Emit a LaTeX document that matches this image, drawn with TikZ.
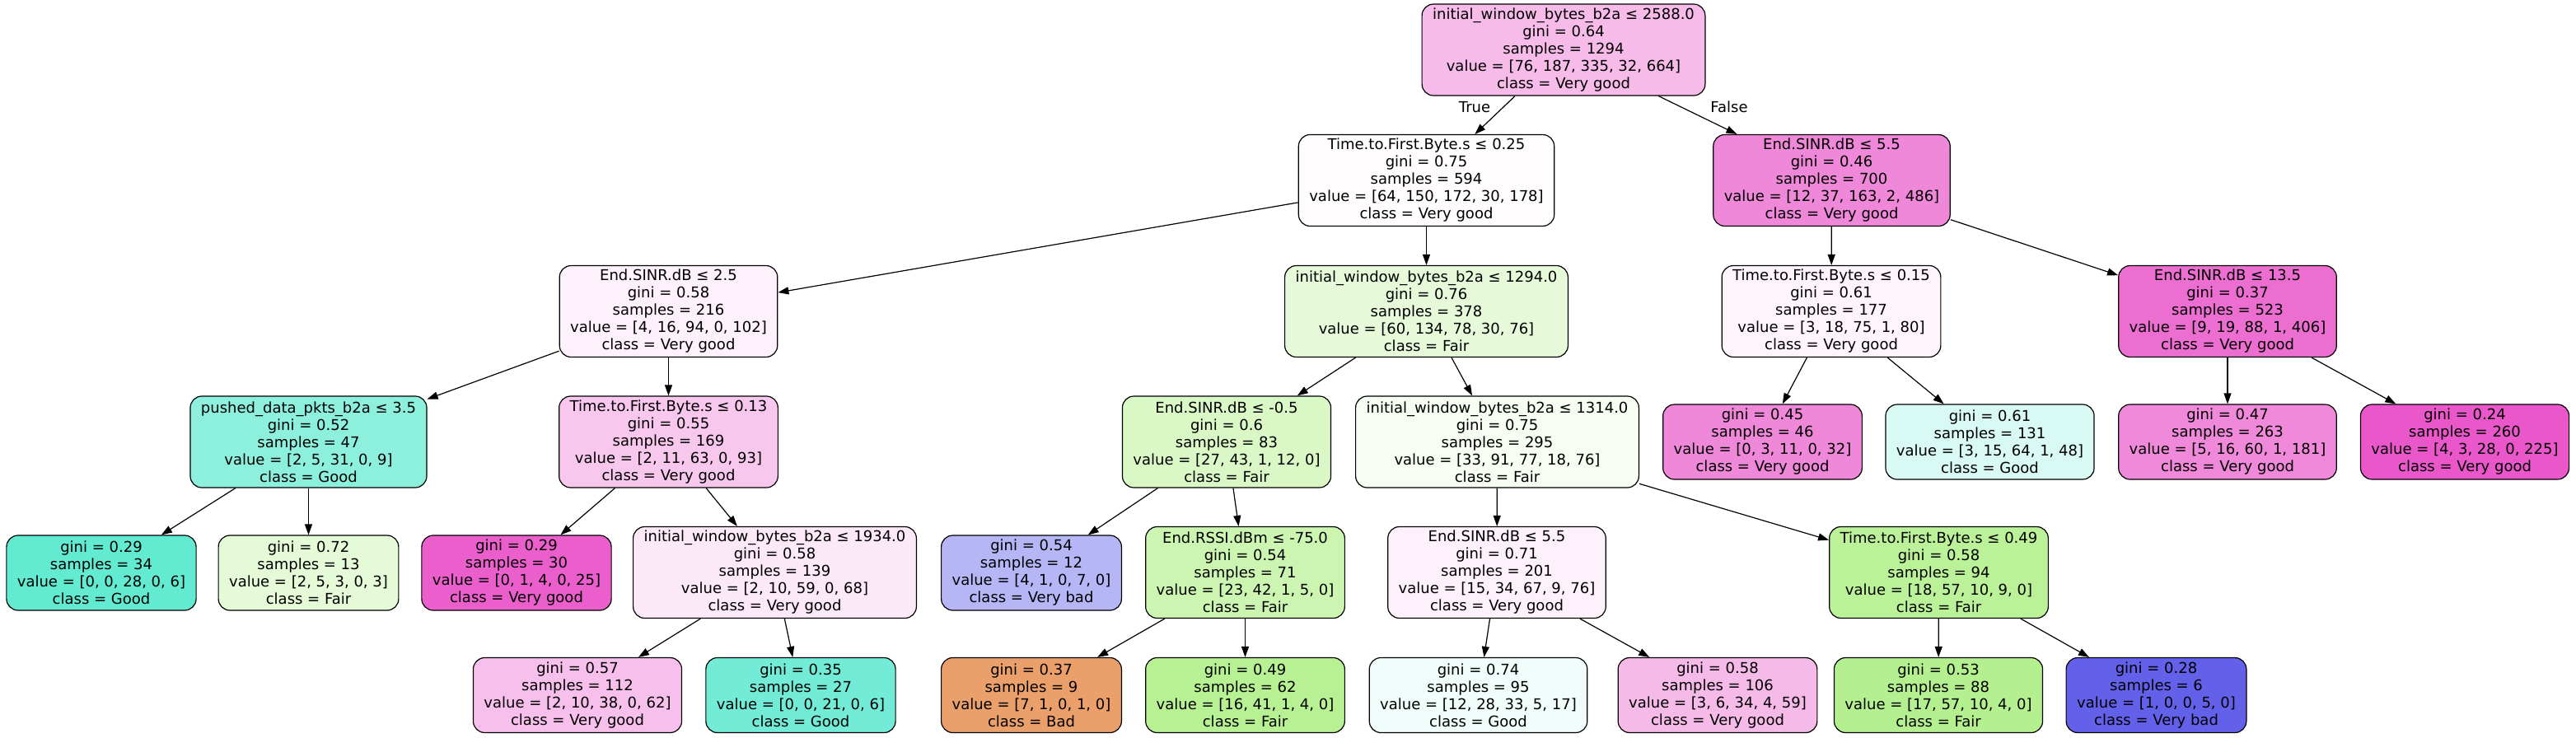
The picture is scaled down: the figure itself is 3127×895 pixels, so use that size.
\documentclass[tikz,border=0pt]{standalone}
\usepackage{fontspec}
\setmainfont{DejaVu Sans}
\usetikzlibrary{arrows.meta}
\definecolor{cBad}{RGB}{229,129,57}
\definecolor{cFair}{RGB}{123,229,57}
\definecolor{cGood}{RGB}{57,229,197}
\definecolor{cVbad}{RGB}{60,57,229}
\definecolor{cVgood}{RGB}{229,57,192}
\begin{document}
\begin{tikzpicture}[x=1pt,y=-1pt,
  tnode/.style={draw=black, line width=1.2pt, rounded corners=14pt, align=center,
    inner xsep=13pt, inner ysep=4pt, font=\fontsize{18}{21}\selectfont, minimum height=111pt},
  tleaf/.style={tnode, minimum height=91pt},
  tedge/.style={draw=black, line width=1.2pt, -{Triangle[length=13pt,width=9pt]}},
  elabel/.style={font=\fontsize{18}{21}\selectfont, inner sep=0pt}
]
\fill[white] (0,0) rectangle (3127,895);
\useasboundingbox (0,0) rectangle (3127,895);

% level 0
\node[tnode, fill=cVgood!34.3!white] (root) at (1898,60.5)
  {initial\_window\_bytes\_b2a ≤ 2588.0\\gini = 0.64\\samples = 1294\\value = [76, 187, 335, 32, 664]\\class = Very good};
% level 1
\node[tnode, fill=cVgood!1.4!white] (t1) at (1731.5,219)
  {Time.to.First.Byte.s ≤ 0.25\\gini = 0.75\\samples = 594\\value = [64, 150, 172, 30, 178]\\class = Very good};
\node[tnode, fill=cVgood!60.1!white] (e1) at (2223.5,219)
  {End.SINR.dB ≤ 5.5\\gini = 0.46\\samples = 700\\value = [12, 37, 163, 2, 486]\\class = Very good};
% level 2
\node[tnode, fill=cVgood!6.6!white] (e25) at (811.5,378)
  {End.SINR.dB ≤ 2.5\\gini = 0.58\\samples = 216\\value = [4, 16, 94, 0, 102]\\class = Very good};
\node[tnode, fill=cFair!18.7!white] (w1294) at (1731.5,378)
  {initial\_window\_bytes\_b2a ≤ 1294.0\\gini = 0.76\\samples = 378\\value = [60, 134, 78, 30, 76]\\class = Fair};
\node[tnode, fill=cVgood!4.9!white] (t015) at (2223,378)
  {Time.to.First.Byte.s ≤ 0.15\\gini = 0.61\\samples = 177\\value = [3, 18, 75, 1, 80]\\class = Very good};
\node[tnode, fill=cVgood!73.1!white] (e135) at (2704,378)
  {End.SINR.dB ≤ 13.5\\gini = 0.37\\samples = 523\\value = [9, 19, 88, 1, 406]\\class = Very good};
% level 3
\node[tnode, fill=cGood!57.9!white] (push) at (374.5,536.5)
  {pushed\_data\_pkts\_b2a ≤ 3.5\\gini = 0.52\\samples = 47\\value = [2, 5, 31, 0, 9]\\class = Good};
\node[tnode, fill=cVgood!28.3!white] (t013) at (811.5,536.5)
  {Time.to.First.Byte.s ≤ 0.13\\gini = 0.55\\samples = 169\\value = [2, 11, 63, 0, 93]\\class = Very good};
\node[tnode, fill=cFair!28.6!white] (em05) at (1489,536.5)
  {End.SINR.dB ≤ -0.5\\gini = 0.6\\samples = 83\\value = [27, 43, 1, 12, 0]\\class = Fair};
\node[tnode, fill=cFair!6.4!white] (w1314) at (1817.5,536.5)
  {initial\_window\_bytes\_b2a ≤ 1314.0\\gini = 0.75\\samples = 295\\value = [33, 91, 77, 18, 76]\\class = Fair};
\node[tleaf, fill=cVgood!60!white] (l045) at (2139.5,536.5)
  {gini = 0.45\\samples = 46\\value = [0, 3, 11, 0, 32]\\class = Very good};
\node[tleaf, fill=cGood!19.3!white] (l061) at (2415.5,536.5)
  {gini = 0.61\\samples = 131\\value = [3, 15, 64, 1, 48]\\class = Good};
\node[tleaf, fill=cVgood!59.6!white] (l047) at (2704,536.5)
  {gini = 0.47\\samples = 263\\value = [5, 16, 60, 1, 181]\\class = Very good};
\node[tleaf, fill=cVgood!84.9!white] (l024) at (2992,536.5)
  {gini = 0.24\\samples = 260\\value = [4, 3, 28, 0, 225]\\class = Very good};
% level 4
\node[tleaf, fill=cGood!78.6!white] (l029g) at (123,695.5)
  {gini = 0.29\\samples = 34\\value = [0, 0, 28, 0, 6]\\class = Good};
\node[tleaf, fill=cFair!20!white] (l072) at (374.5,695.5)
  {gini = 0.72\\samples = 13\\value = [2, 5, 3, 0, 3]\\class = Fair};
\node[tleaf, fill=cVgood!80.8!white] (l029v) at (627,695.5)
  {gini = 0.29\\samples = 30\\value = [0, 1, 4, 0, 25]\\class = Very good};
\node[tnode, fill=cVgood!11.25!white] (w1934) at (940.5,695)
  {initial\_window\_bytes\_b2a ≤ 1934.0\\gini = 0.58\\samples = 139\\value = [2, 10, 59, 0, 68]\\class = Very good};
\node[tleaf, fill=cVbad!37.5!white] (l054) at (1252,695.5)
  {gini = 0.54\\samples = 12\\value = [4, 1, 0, 7, 0]\\class = Very bad};
\node[tnode, fill=cFair!39.6!white] (rssi) at (1511.5,695)
  {End.RSSI.dBm ≤ -75.0\\gini = 0.54\\samples = 71\\value = [23, 42, 1, 5, 0]\\class = Fair};
\node[tnode, fill=cVgood!6.7!white] (e55b) at (1817,695)
  {End.SINR.dB ≤ 5.5\\gini = 0.71\\samples = 201\\value = [15, 34, 67, 9, 76]\\class = Very good};
\node[tnode, fill=cFair!51.3!white] (t049) at (2353.5,695)
  {Time.to.First.Byte.s ≤ 0.49\\gini = 0.58\\samples = 94\\value = [18, 57, 10, 9, 0]\\class = Fair};
% level 5
\node[tleaf, fill=cVgood!32.4!white] (l057) at (701,844)
  {gini = 0.57\\samples = 112\\value = [2, 10, 38, 0, 62]\\class = Very good};
\node[tleaf, fill=cGood!71.4!white] (l035) at (972,844)
  {gini = 0.35\\samples = 27\\value = [0, 0, 21, 0, 6]\\class = Good};
\node[tleaf, fill=cBad!75!white] (l037) at (1252,844)
  {gini = 0.37\\samples = 9\\value = [7, 1, 0, 1, 0]\\class = Bad};
\node[tleaf, fill=cFair!54.3!white] (l049) at (1511.5,844)
  {gini = 0.49\\samples = 62\\value = [16, 41, 1, 4, 0]\\class = Fair};
\node[tleaf, fill=cGood!7.5!white] (l074) at (1794.5,844)
  {gini = 0.74\\samples = 95\\value = [12, 28, 33, 5, 17]\\class = Good};
\node[tleaf, fill=cVgood!34.7!white] (l058) at (2085,844)
  {gini = 0.58\\samples = 106\\value = [3, 6, 34, 4, 59]\\class = Very good};
\node[tleaf, fill=cFair!56.3!white] (l053) at (2353,844)
  {gini = 0.53\\samples = 88\\value = [17, 57, 10, 4, 0]\\class = Fair};
\node[tleaf, fill=cVbad!80!white] (l028) at (2617.5,844)
  {gini = 0.28\\samples = 6\\value = [1, 0, 0, 5, 0]\\class = Very bad};

% edges
\draw[tedge] (root) -- (t1);
\draw[tedge] (root) -- (e1);
\node[elabel] (lblT) at (1790,130) {True};
\node[elabel] (lblF) at (2099,130) {False};
\draw[tedge] (t1) -- (e25);
\draw[tedge] (t1) -- (w1294);
\draw[tedge] (e1) -- (t015);
\draw[tedge] (e1) -- (e135);
\draw[tedge] (e25) -- (push);
\draw[tedge] (e25) -- (t013);
\draw[tedge] (w1294) -- (em05);
\draw[tedge] (w1294) -- (w1314);
\draw[tedge] (t015) -- (l045);
\draw[tedge] (t015) -- (l061);
\draw[tedge] (e135) -- (l047);
\draw[tedge] (e135) -- (l024);
\draw[tedge] (push) -- (l029g);
\draw[tedge] (push) -- (l072);
\draw[tedge] (t013) -- (l029v);
\draw[tedge] (t013) -- (w1934);
\draw[tedge] (em05) -- (l054);
\draw[tedge] (em05) -- (rssi);
\draw[tedge] (w1314) -- (e55b);
\draw[tedge] (w1314) -- (t049);
\draw[tedge] (w1934) -- (l057);
\draw[tedge] (w1934) -- (l035);
\draw[tedge] (rssi) -- (l037);
\draw[tedge] (rssi) -- (l049);
\draw[tedge] (e55b) -- (l074);
\draw[tedge] (e55b) -- (l058);
\draw[tedge] (t049) -- (l053);
\draw[tedge] (t049) -- (l028);
\end{tikzpicture}
\end{document}
